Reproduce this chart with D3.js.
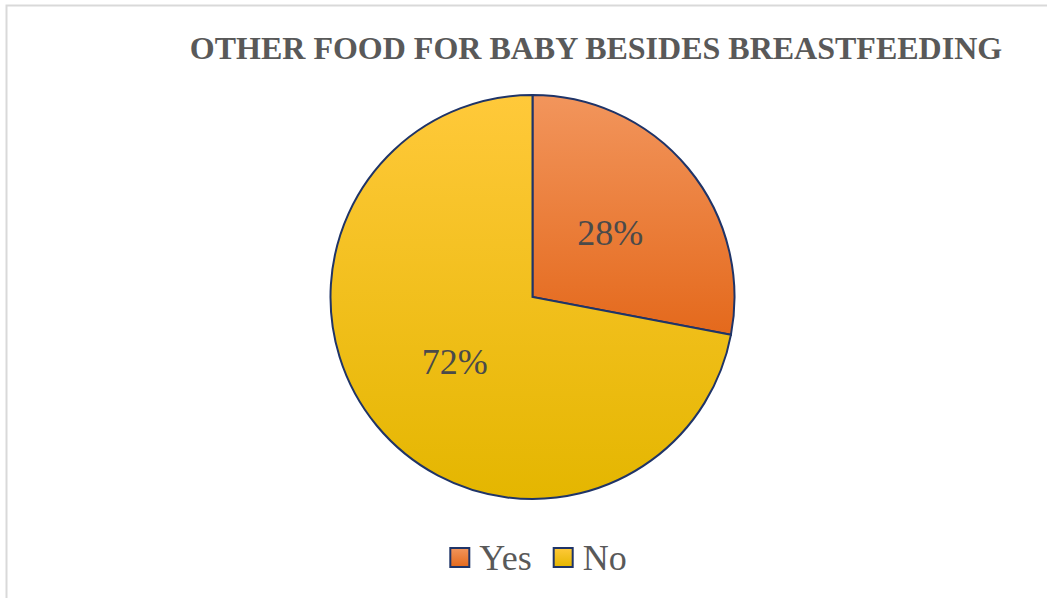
<!DOCTYPE html>
<meta charset="utf-8">
<style>
body {
  margin: 0;
  background: #fff;
}
.title {
  font-family: "Liberation Serif", "Times New Roman", serif;
  font-weight: bold;
  font-size: 32px;
  fill: #595959;
}
.label, .legend text {
  font-family: "Liberation Serif", "Times New Roman", serif;
  font-size: 36px;
  fill: #595959;
}
.label {
  fill: #4a4a4a;
}
.slice {
  stroke: #1f3468;
  stroke-width: 2px;
}
</style>
<body>
<script src="https://d3js.org/d3.v7.min.js"></script>
<script>

var width = 1047,
    height = 598;

// data
var categories = ["Yes", "No"];
var values = [28, 72];
var labels = ["28%", "72%"];

var colorTop = ["#f2955c", "#ffc93a"],
    colorBottom = ["#e4691c", "#e4b600"];

var cx = 532.5, cy = 297, radius = 202;

var svg = d3.select("body").append("svg")
    .attr("width", width)
    .attr("height", height);

// chart border (light grey frame)
svg.append("rect")
    .attr("x", 6.5)
    .attr("y", 5.5)
    .attr("width", width + 10)
    .attr("height", height + 10)
    .attr("fill", "#fff")
    .attr("stroke", "#d9d9d9")
    .attr("stroke-width", 2);

svg.append("text")
    .attr("class", "title")
    .attr("x", 596)
    .attr("y", 59)
    .attr("text-anchor", "middle")
    .text("OTHER FOOD FOR BABY BESIDES BREASTFEEDING");

var defs = svg.append("defs");
categories.forEach(function(c, i) {
  var g = defs.append("linearGradient")
      .attr("id", "grad" + i)
      .attr("x1", 0).attr("y1", 0)
      .attr("x2", 0).attr("y2", 1);
  g.append("stop").attr("offset", "0%").attr("stop-color", colorTop[i]);
  g.append("stop").attr("offset", "100%").attr("stop-color", colorBottom[i]);
});

var pie = d3.pie().sort(null).value(function(d) { return d; });
var arc = d3.arc().innerRadius(0).outerRadius(radius);
var labelArc = d3.arc().innerRadius(radius * 0.5).outerRadius(radius * 0.5);

var g = svg.append("g")
    .attr("transform", "translate(" + cx + "," + cy + ")");

var arcs = pie(values);

g.selectAll(".slice")
    .data(arcs)
  .enter().append("path")
    .attr("class", "slice")
    .attr("d", arc)
    .attr("fill", function(d, i) { return "url(#grad" + i + ")"; });

g.selectAll(".label")
    .data(arcs)
  .enter().append("text")
    .attr("class", "label")
    .attr("transform", function(d) { return "translate(" + labelArc.centroid(d) + ")"; })
    .attr("text-anchor", "middle")
    .attr("dy", "0.35em")
    .text(function(d, i) { return labels[i]; });

// legend
var legend = svg.append("g").attr("class", "legend");
var x = 0;
categories.forEach(function(c, i) {
  var item = legend.append("g").attr("transform", "translate(" + x + ",0)");
  item.append("rect")
      .attr("x", 0).attr("y", -19)
      .attr("width", 19).attr("height", 19)
      .attr("fill", "url(#grad" + i + ")")
      .attr("stroke", "#1f3468")
      .attr("stroke-width", 2);
  var t = item.append("text")
      .attr("x", 29)
      .attr("y", 3)
      .text(c);
  x += 29 + t.node().getComputedTextLength() + 22;
});
var lw = x - 22;
legend.attr("transform", "translate(" + (538.5 - lw / 2) + ",567)");

</script>
